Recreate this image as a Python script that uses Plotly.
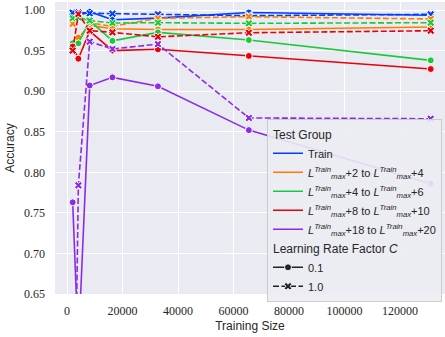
import plotly.graph_objects as go

sizes = [2048, 4096, 8192, 16384, 32768, 65536, 131072]

groups = ["Train", "+2 to +4", "+4 to +6", "+8 to +10", "+18 to +20"]
group_labels = [
    "Train",
    "<i>L</i><sup><i>Train</i></sup><sub><i>max</i></sub>+2 to <i>L</i><sup><i>Train</i></sup><sub><i>max</i></sub>+4",
    "<i>L</i><sup><i>Train</i></sup><sub><i>max</i></sub>+4 to <i>L</i><sup><i>Train</i></sup><sub><i>max</i></sub>+6",
    "<i>L</i><sup><i>Train</i></sup><sub><i>max</i></sub>+8 to <i>L</i><sup><i>Train</i></sup><sub><i>max</i></sub>+10",
    "<i>L</i><sup><i>Train</i></sup><sub><i>max</i></sub>+18 to <i>L</i><sup><i>Train</i></sup><sub><i>max</i></sub>+20",
]
colors = ["#023eff", "#ff7c00", "#1ac938", "#e8000b", "#8b2be2"]

# Learning rate factor C = 0.1 (solid, circles)
acc_c01 = {
    "Train":      [0.996, 0.993, 0.998, 0.988, 0.990, 0.997, 0.9935],
    "+2 to +4":   [0.958, 0.966, 0.981, 0.977, 0.976, 0.976, 0.979],
    "+4 to +6":   [0.959, 0.959, 0.987, 0.962, 0.9725, 0.963, 0.938],
    "+8 to +10":  [0.955, 0.940, 0.974, 0.950, 0.9516, 0.9434, 0.9273],
    "+18 to +20": [0.763, 0.585, 0.907, 0.917, 0.906, 0.852, 0.786],
}
# Learning rate factor C = 1.0 (dashed, crosses)
acc_c10 = {
    "Train":      [0.9967, 0.997, 0.996, 0.9955, 0.9947, 0.993, 0.9947],
    "+2 to +4":   [0.983, 0.990, 0.984, 0.980, 0.9898, 0.9918, 0.989],
    "+4 to +6":   [0.990, 0.991, 0.987, 0.984, 0.9844, 0.9836, 0.9844],
    "+8 to +10":  [0.950, 0.995, 0.9745, 0.9725, 0.967, 0.972, 0.9745],
    "+18 to +20": [0.300, 0.784, 0.961, 0.952, 0.958, 0.867, 0.866],
}

lr_labels = ["0.1", "1.0"]
x_ticks = [0, 20000, 40000, 60000, 80000, 100000, 120000]
y_ticks = [0.65, 0.70, 0.75, 0.80, 0.85, 0.90, 0.95, 1.00]

fig = go.Figure()

for g, col in zip(groups, colors):
    fig.add_trace(go.Scatter(
        x=sizes, y=acc_c01[g], mode="lines+markers", showlegend=False,
        line=dict(color=col, width=1.6),
        marker=dict(symbol="circle", size=7, color=col, line=dict(color="white", width=1)),
    ))
    fig.add_trace(go.Scatter(
        x=sizes, y=acc_c10[g], mode="lines+markers", showlegend=False,
        line=dict(color=col, width=1.6, dash="6px,2.5px"),
        marker=dict(symbol="x", size=7, color=col, line=dict(color="white", width=1)),
    ))

# legend entries
for i, (lab, col) in enumerate(zip(group_labels, colors)):
    fig.add_trace(go.Scatter(
        x=[None], y=[None], mode="lines", name=lab,
        line=dict(color=col, width=1.6),
        legendgroup="tg",
        legendgrouptitle_text="Test Group" if i == 0 else None,
    ))
for i, lab in enumerate(lr_labels):
    fig.add_trace(go.Scatter(
        x=[None], y=[None], mode="lines+markers", name=lab,
        line=dict(color="#222222", width=1.6, dash="solid" if i == 0 else "6px,2.5px"),
        marker=dict(symbol="circle" if i == 0 else "x", size=7, color="#222222",
                    line=dict(color="white", width=1)),
        legendgroup="lr",
        legendgrouptitle_text="Learning Rate Factor <i>C</i>" if i == 0 else None,
    ))

serif = "Liberation Serif"
sans = "Liberation Sans"

fig.update_layout(
    width=445, height=337,
    margin=dict(l=55, r=0, t=2, b=43),
    paper_bgcolor="white",
    plot_bgcolor="#EAEAF2",
    font=dict(family=sans, size=12, color="#262626"),
    legend=dict(
        x=0.5436, y=0.600, xanchor="left", yanchor="top",
        bgcolor="rgba(236,236,243,0.9)", bordercolor="#cccccc", borderwidth=1,
        font=dict(family=sans, size=11, color="#262626"),
        grouptitlefont=dict(family=sans, size=12, color="#262626"),
        tracegroupgap=0,
    ),
    xaxis=dict(
        range=[-4324, 136216],
        tickvals=x_ticks, tickformat="d",
        tickfont=dict(family=serif, size=12, color="#262626"),
        showgrid=True, gridcolor="white", gridwidth=1.2,
        zeroline=False, showline=False, ticks="",
        ticklabelstandoff=8,
        title=dict(text="Training Size", font=dict(family=sans, size=12, color="#262626"), standoff=4),
    ),
    yaxis=dict(
        range=[0.65, 1.0099],
        tickvals=y_ticks, tickformat=".2f",
        tickfont=dict(family=serif, size=12, color="#262626"),
        showgrid=True, gridcolor="white", gridwidth=1.2,
        zeroline=False, showline=False, ticks="",
        ticklabelstandoff=9,
        title=dict(text="Accuracy", font=dict(family=sans, size=12, color="#262626"), standoff=6),
    ),
)

fig.write_html("out.html")
